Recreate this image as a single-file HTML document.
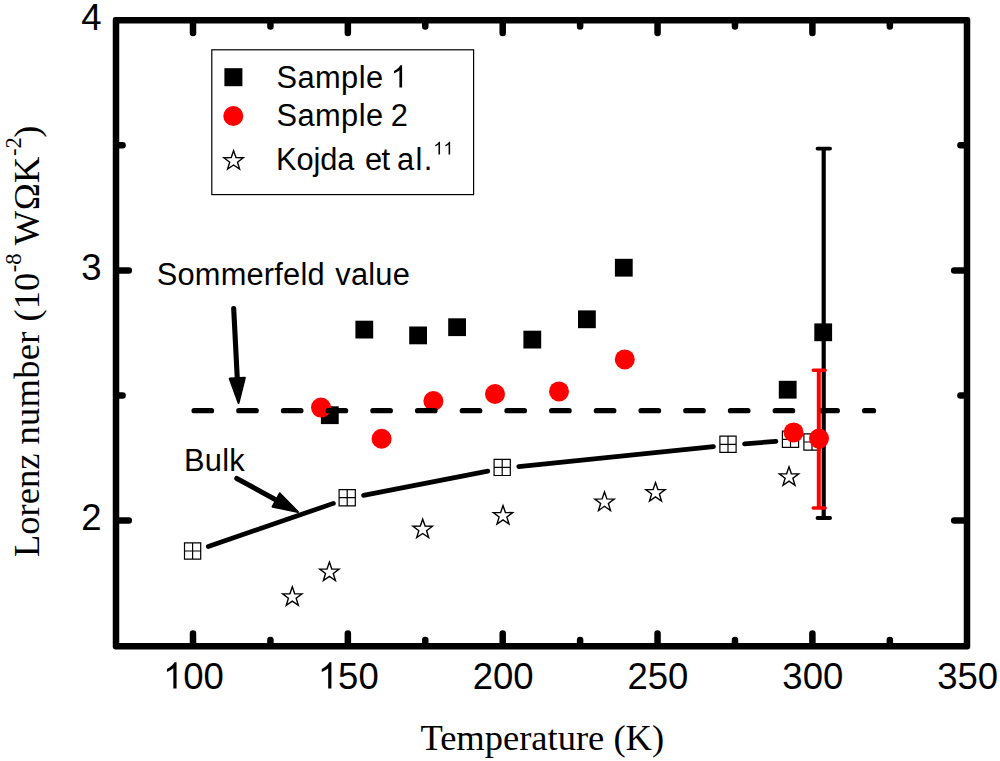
<!DOCTYPE html><html><head><meta charset="utf-8"><title>Lorenz number</title>
<style>html,body{margin:0;padding:0;background:#fff}svg{display:block}.s{font-family:"Liberation Sans",sans-serif}.t{font-family:"Liberation Serif",serif}</style></head><body>
<svg width="1000" height="761" viewBox="0 0 1000 761">
<rect width="1000" height="761" fill="#fff"/>
<path fill="#000" fill-rule="evenodd" d="M115.15 17.0H967.85A2.4 2.4 0 0 1 970.25 19.4V647.0500000000001A2.4 2.4 0 0 1 967.85 649.45H115.15A2.4 2.4 0 0 1 112.75 647.0500000000001V19.4A2.4 2.4 0 0 1 115.15 17.0Z M119.25 23.5V642.95H963.75V23.5Z"/>
<path d="M193.00 645.2 V633.40 M193.00 21.25 V33.05 M270.43 645.2 V640.00 M270.43 21.25 V26.45 M347.85 645.2 V633.40 M347.85 21.25 V33.05 M425.27 645.2 V640.00 M425.27 21.25 V26.45 M502.70 645.2 V633.40 M502.70 21.25 V33.05 M580.12 645.2 V640.00 M580.12 21.25 V26.45 M657.55 645.2 V633.40 M657.55 21.25 V33.05 M734.98 645.2 V640.00 M734.98 21.25 V26.45 M812.40 645.2 V633.40 M812.40 21.25 V33.05 M889.83 645.2 V640.00 M889.83 21.25 V26.45 M117.0 520.55 H128.80 M966.0 520.55 H954.20 M117.0 395.47 H122.60 M966.0 395.47 H960.40 M117.0 270.40 H128.80 M966.0 270.40 H954.20 M117.0 145.32 H122.60 M966.0 145.32 H960.40" stroke="#000" stroke-width="6.5" stroke-linecap="round" fill="none"/>
<path transform="translate(162.96,688.60) scale(0.01782,-0.01782)" d="M763 0H583V1147Q518 1085 412.5 1023T223 930V1104Q374 1175 487 1276T647 1472H763Z" fill="#000"/>
<text class="s" x="183.25" y="688.6" font-size="36.5">00</text>
<path transform="translate(317.81,688.60) scale(0.01782,-0.01782)" d="M763 0H583V1147Q518 1085 412.5 1023T223 930V1104Q374 1175 487 1276T647 1472H763Z" fill="#000"/>
<text class="s" x="338.10" y="688.6" font-size="36.5">50</text>
<text class="s" x="472.66" y="688.6" font-size="36.5">200</text>
<text class="s" x="627.51" y="688.6" font-size="36.5">250</text>
<text class="s" x="782.36" y="688.6" font-size="36.5">300</text>
<text class="s" x="937.21" y="688.6" font-size="36.5">350</text>
<text class="s" x="101.6" y="530.4" font-size="36.5" text-anchor="end">2</text>
<text class="s" x="101.6" y="280.3" font-size="36.5" text-anchor="end">3</text>
<text class="s" x="101.6" y="30.1" font-size="36.5" text-anchor="end">4</text>
<text class="t" x="420.4" y="750.2" font-size="36.5">Temperature (K)</text>
<g transform="translate(39.0,557) rotate(-90)"><text class="t" x="0" y="0" font-size="36.5">Lorenz <tspan style="letter-spacing:0.3px">number</tspan><tspan dx="0.6"> (10</tspan><tspan font-size="22.5" dy="-17.8" dx="0.6">-8</tspan><tspan dy="17.8" dx="-0.4" style="letter-spacing:0.3px"> WΩK</tspan><tspan font-size="22.5" dy="-17.8" dx="0.4">-2</tspan><tspan dy="17.8" dx="-0.6">)</tspan></text></g>
<rect x="211.8" y="49.8" width="261.8" height="144.8" fill="#fff" stroke="#000" stroke-width="1.2"/>
<rect x="224.4" y="68.2" width="18" height="18" fill="#000"/>
<circle cx="233.3" cy="116.0" r="10" fill="#f00"/>
<polygon points="233.60,150.70 236.00,157.60 243.30,157.75 237.48,162.16 239.60,169.15 233.60,164.98 227.60,169.15 229.72,162.16 223.90,157.75 231.20,157.60" fill="#fff" stroke="#000" stroke-width="1.4" stroke-linejoin="miter"/>
<text class="s" x="276.4" y="87.5" font-size="30.8" style="letter-spacing:0.45px">Sample</text>
<path transform="translate(390.64,87.50) scale(0.01504,-0.01504)" d="M763 0H583V1147Q518 1085 412.5 1023T223 930V1104Q374 1175 487 1276T647 1472H763Z" fill="#000"/>
<text class="s" x="276.4" y="125.7" font-size="30.8" style="letter-spacing:0.45px">Sample</text>
<text class="s" x="390.8" y="125.7" font-size="30.8" style="letter-spacing:0px">2</text>
<text class="s" x="276.0" y="169.7" font-size="30.8" style="letter-spacing:-0.1px">Kojda</text>
<text class="s" x="365.0" y="169.7" font-size="30.8" style="letter-spacing:-0.6px">et</text>
<text class="s" x="397.1" y="169.7" font-size="30.8" style="letter-spacing:1.4px">al.</text>
<path transform="translate(433.34,154.60) scale(0.00879,-0.00879)" d="M763 0H583V1147Q518 1085 412.5 1023T223 930V1104Q374 1175 487 1276T647 1472H763Z" fill="#000"/>
<path transform="translate(443.44,154.60) scale(0.00879,-0.00879)" d="M763 0H583V1147Q518 1085 412.5 1023T223 930V1104Q374 1175 487 1276T647 1472H763Z" fill="#000"/>
<text class="s" x="156.7" y="284.9" font-size="30.8" style="letter-spacing:0.21px">Sommerfeld</text>
<text class="s" x="335.3" y="284.9" font-size="30.8" style="letter-spacing:0.23px">value</text>
<text class="s" x="184.0" y="471.3" font-size="30.8" style="letter-spacing:0.23px">Bulk</text>
<line x1="208.29" y1="546.49" x2="333.40" y2="503.36" stroke="#000" stroke-width="4.7" stroke-linecap="round"/>
<line x1="363.49" y1="495.42" x2="487.87" y2="471.10" stroke="#000" stroke-width="4.7" stroke-linecap="round"/>
<line x1="518.71" y1="466.61" x2="713.48" y2="446.69" stroke="#000" stroke-width="4.7" stroke-linecap="round"/>
<line x1="744.55" y1="443.88" x2="775.95" y2="441.36" stroke="#000" stroke-width="4.7" stroke-linecap="round"/>
<path d="M184.50 542.90h16.2v16.2h-16.2z M192.60 542.90v16.2 M184.50 551.00h16.2" fill="#fff" stroke="#000" stroke-width="1.2"/>
<path d="M339.10 489.60h16.2v16.2h-16.2z M347.20 489.60v16.2 M339.10 497.70h16.2" fill="#fff" stroke="#000" stroke-width="1.2"/>
<path d="M494.10 459.30h16.2v16.2h-16.2z M502.20 459.30v16.2 M494.10 467.40h16.2" fill="#fff" stroke="#000" stroke-width="1.2"/>
<path d="M719.90 436.20h16.2v16.2h-16.2z M728.00 436.20v16.2 M719.90 444.30h16.2" fill="#fff" stroke="#000" stroke-width="1.2"/>
<path d="M782.40 431.20h16.2v16.2h-16.2z M790.50 431.20v16.2 M782.40 439.30h16.2" fill="#fff" stroke="#000" stroke-width="1.2"/>
<path d="M803.90 433.90h16.2v16.2h-16.2z M812.00 433.90v16.2 M803.90 442.00h16.2" fill="#fff" stroke="#000" stroke-width="1.2"/>
<polygon points="292.30,586.80 294.70,593.70 302.00,593.85 296.18,598.26 298.30,605.25 292.30,601.08 286.30,605.25 288.42,598.26 282.60,593.85 289.90,593.70" fill="#fff" stroke="#000" stroke-width="1.4" stroke-linejoin="miter"/>
<polygon points="329.40,562.10 331.80,569.00 339.10,569.15 333.28,573.56 335.40,580.55 329.40,576.38 323.40,580.55 325.52,573.56 319.70,569.15 327.00,569.00" fill="#fff" stroke="#000" stroke-width="1.4" stroke-linejoin="miter"/>
<polygon points="422.70,519.20 425.10,526.10 432.40,526.25 426.58,530.66 428.70,537.65 422.70,533.48 416.70,537.65 418.82,530.66 413.00,526.25 420.30,526.10" fill="#fff" stroke="#000" stroke-width="1.4" stroke-linejoin="miter"/>
<polygon points="503.00,505.60 505.40,512.50 512.70,512.65 506.88,517.06 509.00,524.05 503.00,519.88 497.00,524.05 499.12,517.06 493.30,512.65 500.60,512.50" fill="#fff" stroke="#000" stroke-width="1.4" stroke-linejoin="miter"/>
<polygon points="604.50,492.00 606.90,498.90 614.20,499.05 608.38,503.46 610.50,510.45 604.50,506.28 598.50,510.45 600.62,503.46 594.80,499.05 602.10,498.90" fill="#fff" stroke="#000" stroke-width="1.4" stroke-linejoin="miter"/>
<polygon points="655.50,482.60 657.90,489.50 665.20,489.65 659.38,494.06 661.50,501.05 655.50,496.88 649.50,501.05 651.62,494.06 645.80,489.65 653.10,489.50" fill="#fff" stroke="#000" stroke-width="1.4" stroke-linejoin="miter"/>
<polygon points="789.00,466.80 791.40,473.70 798.70,473.85 792.88,478.26 795.00,485.25 789.00,481.08 783.00,485.25 785.12,478.26 779.30,473.85 786.60,473.70" fill="#fff" stroke="#000" stroke-width="1.4" stroke-linejoin="miter"/>
<path d="M823.7 148.6V518" stroke="#000" stroke-width="4.2" fill="none"/><path d="M817.5 148.6H830.1 M817.5 518H830.1" stroke="#000" stroke-width="3.8" stroke-linecap="round" fill="none"/>
<rect x="320.90" y="406.30" width="17.8" height="17.8" fill="#000"/>
<rect x="355.40" y="320.70" width="17.8" height="17.8" fill="#000"/>
<rect x="409.20" y="326.50" width="17.8" height="17.8" fill="#000"/>
<rect x="448.20" y="318.30" width="17.8" height="17.8" fill="#000"/>
<rect x="523.40" y="330.70" width="17.8" height="17.8" fill="#000"/>
<rect x="578.00" y="310.40" width="17.8" height="17.8" fill="#000"/>
<rect x="614.90" y="258.80" width="17.8" height="17.8" fill="#000"/>
<rect x="778.80" y="380.80" width="17.8" height="17.8" fill="#000"/>
<rect x="814.30" y="323.40" width="17.8" height="17.8" fill="#000"/>
<circle cx="321" cy="407.6" r="10" fill="#f00"/>
<circle cx="381.6" cy="438.8" r="10" fill="#f00"/>
<circle cx="433.4" cy="401" r="10" fill="#f00"/>
<circle cx="495" cy="394" r="10" fill="#f00"/>
<circle cx="559" cy="391.4" r="10" fill="#f00"/>
<circle cx="624.8" cy="359.4" r="10" fill="#f00"/>
<circle cx="793.6" cy="432.4" r="10" fill="#f00"/>
<circle cx="819" cy="438.6" r="10" fill="#f00"/>
<line x1="194.1" y1="410.7" x2="873.5" y2="410.7" stroke="#000" stroke-width="5.3" stroke-linecap="round" stroke-dasharray="17.4 27.3"/>
<path d="M818.8 370.2V508" stroke="#f00" stroke-width="4" fill="none"/><path d="M813.2 370.2H825.2 M813.2 508H825.2" stroke="#f00" stroke-width="3.4" stroke-linecap="round" fill="none"/>
<line x1="233.70" y1="308.50" x2="237.37" y2="380.23" stroke="#000" stroke-width="5.1" stroke-linecap="round"/><polygon points="238.54,403.00 229.68,378.62 244.86,377.85" fill="#000" stroke="#000" stroke-width="2" stroke-linejoin="round"/>
<line x1="236.80" y1="478.40" x2="277.96" y2="500.96" stroke="#000" stroke-width="5.1" stroke-linecap="round"/><polygon points="297.95,511.92 272.55,506.67 279.85,493.34" fill="#000" stroke="#000" stroke-width="2" stroke-linejoin="round"/>
</svg></body></html>
